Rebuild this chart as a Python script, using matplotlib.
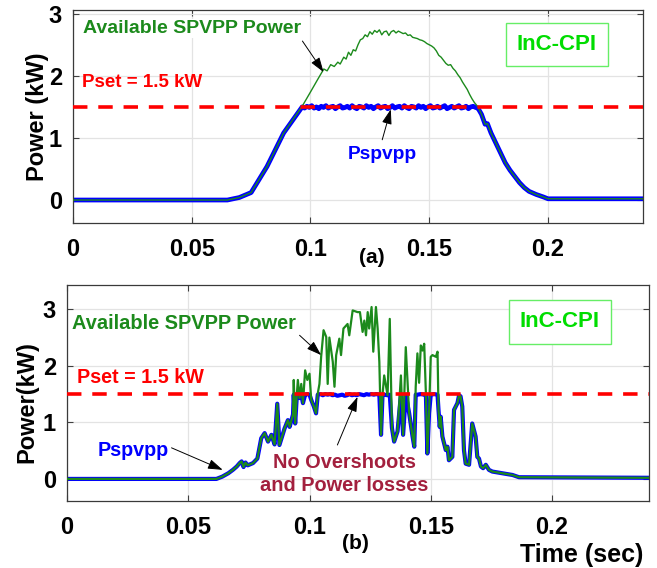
import matplotlib.pyplot as plt

plt.rcParams["font.family"] = ["Liberation Sans", "DejaVu Sans"]
plt.rcParams["font.weight"] = "bold"

# =============================================================================
# DATA
# =============================================================================
P_SET = 1.5

# (a) available power, smooth irradiance profile
t_avail_a = [0.0, 0.065, 0.070, 0.075, 0.0817, 0.0887, 0.0965, 0.100, 0.1030,
             0.1056, 0.107, 0.1085, 0.110, 0.1115, 0.1125, 0.114, 0.115,
             0.116, 0.117, 0.118, 0.119, 0.120, 0.121, 0.122, 0.123, 0.124,
             0.125, 0.126, 0.127, 0.128, 0.129, 0.130, 0.131, 0.132, 0.133,
             0.134, 0.135, 0.136, 0.137, 0.138, 0.139, 0.140, 0.141, 0.142,
             0.143, 0.144, 0.145, 0.146, 0.147, 0.148, 0.149, 0.150, 0.151,
             0.152, 0.153, 0.154, 0.155, 0.156, 0.157, 0.158, 0.159, 0.160,
             0.161, 0.162, 0.163, 0.164, 0.165, 0.166, 0.167, 0.168, 0.169,
             0.1705, 0.172, 0.1735, 0.1745, 0.176, 0.178, 0.180, 0.182,
             0.184, 0.186, 0.188, 0.190, 0.192, 0.195, 0.198, 0.200, 0.240]
p_avail_a = [0.0, 0.0, 0.04, 0.12, 0.54, 1.08, 1.51, 1.74, 1.94,
             2.11, 2.08, 2.18, 2.15, 2.22, 2.19, 2.30, 2.27,
             2.38, 2.33, 2.42, 2.40, 2.50, 2.58, 2.60, 2.66, 2.63,
             2.71, 2.67, 2.73, 2.70, 2.74, 2.66, 2.71, 2.72, 2.65,
             2.71, 2.73, 2.69, 2.72, 2.70, 2.68, 2.69, 2.65, 2.66,
             2.62, 2.61, 2.60, 2.58, 2.57, 2.55, 2.52, 2.50, 2.48,
             2.45, 2.40, 2.33, 2.30, 2.25, 2.20, 2.17, 2.18, 2.12,
             2.08, 2.02, 1.97, 1.90, 1.84, 1.78, 1.70, 1.63, 1.57,
             1.50, 1.38, 1.22, 1.23, 1.08, 0.92, 0.76, 0.60,
             0.48, 0.38, 0.28, 0.20, 0.14, 0.09, 0.05, 0.02, 0.02]

# (a) delivered power, limited to Pset
t_pv_a = [0.0, 0.065, 0.070, 0.075, 0.0817, 0.0887, 0.0965,
          0.0975, 0.0985, 0.0995, 0.1005, 0.1015, 0.1025, 0.1035, 0.1045,
          0.1055, 0.1065, 0.1075, 0.1085, 0.1095, 0.1105, 0.1115, 0.1125,
          0.1135, 0.1145, 0.1155, 0.1165, 0.1175, 0.1185, 0.1195, 0.1205,
          0.1215, 0.1225, 0.1235, 0.1245, 0.1255, 0.1265, 0.1275, 0.1285,
          0.1295, 0.1305, 0.1315, 0.1325, 0.1335, 0.1345, 0.1355, 0.1365,
          0.1375, 0.1385, 0.1395, 0.1405, 0.1415, 0.1425, 0.1435, 0.1445,
          0.1455, 0.1465, 0.1475, 0.1485, 0.1495, 0.1505, 0.1515, 0.1525,
          0.1535, 0.1545, 0.1555, 0.1565, 0.1575, 0.1585, 0.1595, 0.1605,
          0.1615, 0.1625, 0.1635, 0.1645, 0.1655, 0.1665, 0.1675, 0.1685,
          0.1695, 0.1705, 0.172, 0.1735, 0.1745, 0.176, 0.178, 0.180,
          0.182, 0.184, 0.186, 0.188, 0.190, 0.192, 0.195, 0.198, 0.200,
          0.240]
p_pv_a = [0.0, 0.0, 0.04, 0.12, 0.54, 1.08, 1.50,
          1.48, 1.51, 1.49, 1.52, 1.48, 1.50, 1.47, 1.51,
          1.49, 1.52, 1.48, 1.50, 1.51, 1.47, 1.50, 1.52,
          1.48, 1.49, 1.51, 1.48, 1.52, 1.49, 1.47, 1.51,
          1.50, 1.48, 1.52, 1.49, 1.51, 1.47, 1.50, 1.52,
          1.48, 1.50, 1.51, 1.47, 1.49, 1.52, 1.48, 1.50,
          1.51, 1.48, 1.52, 1.49, 1.47, 1.51, 1.50, 1.48,
          1.52, 1.49, 1.51, 1.47, 1.50, 1.52, 1.48, 1.49,
          1.51, 1.48, 1.50, 1.52, 1.47, 1.49, 1.51, 1.48,
          1.50, 1.52, 1.48, 1.49, 1.51, 1.47, 1.50, 1.51,
          1.49, 1.48, 1.38, 1.22, 1.23, 1.08, 0.92, 0.76,
          0.60, 0.48, 0.38, 0.28, 0.20, 0.14, 0.09, 0.05, 0.02,
          0.02]

# (b) available power, fast-changing irradiance
t_avail_b = [0.0, 0.0616, 0.0640, 0.0665, 0.0684, 0.0700, 0.0712, 0.0720,
             0.0728, 0.0736, 0.0745, 0.0767, 0.0785, 0.0801, 0.0815, 0.0829,
             0.0843, 0.0856, 0.0867, 0.0876, 0.0897, 0.0911, 0.0918, 0.0932,
             0.0935, 0.0941, 0.0948, 0.0952, 0.0959, 0.0966, 0.0973, 0.0982,
             0.0991, 0.1000, 0.1007, 0.1018, 0.1027, 0.1034, 0.1041, 0.1048,
             0.1058, 0.1069, 0.1075, 0.1082, 0.1096, 0.1103, 0.1110, 0.1123,
             0.1130, 0.1140, 0.1157, 0.1164, 0.1178, 0.1198, 0.1208, 0.1219,
             0.1226, 0.1233, 0.1240, 0.1246, 0.1256, 0.1263, 0.1274, 0.1281,
             0.1288, 0.1295, 0.1301, 0.1308, 0.1322, 0.1331, 0.1340, 0.1349,
             0.1363, 0.1377, 0.1386, 0.1397, 0.1411, 0.1425, 0.1432, 0.1438,
             0.1445, 0.1452, 0.1459, 0.1466, 0.1473, 0.1480, 0.1486, 0.1493,
             0.1500, 0.1507, 0.1521, 0.1528, 0.1532, 0.1537, 0.1541, 0.1548,
             0.1562, 0.1569, 0.1575, 0.1589, 0.1596, 0.1610, 0.1617, 0.1623,
             0.1630, 0.1637, 0.1644, 0.1658, 0.1671, 0.1685, 0.1692, 0.1699,
             0.1707, 0.1716, 0.1727, 0.1740, 0.1754, 0.1782, 0.1809, 0.1837,
             0.1864, 0.2400]
p_avail_b = [0.0, 0.0, 0.04, 0.10, 0.16, 0.22, 0.28, 0.31,
             0.21, 0.29, 0.24, 0.28, 0.36, 0.72, 0.81, 0.66,
             0.78, 0.61, 1.33, 0.60, 0.89, 1.04, 0.92, 1.14,
             1.75, 0.98, 1.51, 1.75, 1.43, 1.68, 1.34, 1.92,
             1.75, 1.86, 1.40, 1.28, 1.16, 1.51, 1.68, 2.16,
             2.63, 2.51, 1.68, 2.50, 2.07, 1.63, 2.19, 2.48,
             2.19, 2.66, 2.74, 2.54, 2.98, 2.95, 2.95, 2.60,
             2.80, 2.54, 2.95, 2.66, 3.04, 2.25, 3.04, 2.66,
             2.07, 0.78, 1.48, 1.83, 1.48, 2.83, 0.90, 0.66,
             0.84, 1.83, 0.78, 2.33, 1.16, 0.75, 0.57, 1.63,
             2.22, 1.70, 2.36, 2.27, 2.39, 1.51, 0.45, 1.16,
             2.16, 2.19, 2.16, 2.25, 1.22, 0.92, 1.10, 0.75,
             0.51, 0.57, 0.33, 0.39, 1.22, 1.34, 1.48, 1.46,
             1.28, 0.51, 0.27, 0.25, 0.98, 0.75, 0.39, 0.36,
             0.22, 0.19, 0.25, 0.16, 0.13, 0.11, 0.09, 0.07,
             0.03, 0.02]

# (b) delivered power, limited to Pset
t_pv_b = [0.0, 0.0616, 0.0640, 0.0665, 0.0684, 0.0700, 0.0712, 0.0720,
          0.0728, 0.0736, 0.0745, 0.0767, 0.0785, 0.0801, 0.0815, 0.0829,
          0.0843, 0.0856, 0.0867, 0.0876, 0.0897, 0.0911, 0.0918, 0.0932,
          0.0935, 0.0941, 0.0948, 0.0952, 0.0959, 0.0966, 0.0973, 0.0982,
          0.0991, 0.1000, 0.1007, 0.1018, 0.1027, 0.1034, 0.1045, 0.1055,
          0.1065, 0.1075, 0.1085, 0.1095, 0.1105, 0.1115, 0.1125, 0.1135,
          0.1145, 0.1155, 0.1165, 0.1175, 0.1185, 0.1195, 0.1205, 0.1215,
          0.1225, 0.1235, 0.1245, 0.1255, 0.1265, 0.1275, 0.1288, 0.1295,
          0.1301, 0.1308, 0.1322, 0.1331, 0.1340, 0.1349, 0.1363, 0.1377,
          0.1386, 0.1397, 0.1411, 0.1425, 0.1432, 0.1438, 0.1445, 0.1459,
          0.1473, 0.1480, 0.1486, 0.1493, 0.1500, 0.1514, 0.1528, 0.1532,
          0.1537, 0.1541, 0.1548, 0.1562, 0.1569, 0.1575, 0.1589, 0.1596,
          0.1610, 0.1617, 0.1623, 0.1630, 0.1637, 0.1644, 0.1658, 0.1671,
          0.1685, 0.1692, 0.1699, 0.1707, 0.1716, 0.1727, 0.1740, 0.1754,
          0.1782, 0.1809, 0.1837, 0.1864, 0.2400]
p_pv_b = [0.0, 0.0, 0.04, 0.10, 0.16, 0.22, 0.28, 0.31,
          0.21, 0.29, 0.24, 0.28, 0.36, 0.72, 0.81, 0.66,
          0.78, 0.61, 1.33, 0.60, 0.89, 1.04, 0.92, 1.14,
          1.49, 0.98, 1.49, 1.49, 1.43, 1.49, 1.34, 1.49,
          1.50, 1.49, 1.40, 1.28, 1.16, 1.49, 1.50, 1.48,
          1.50, 1.49, 1.50, 1.48, 1.49, 1.47, 1.48, 1.49,
          1.47, 1.48, 1.50, 1.48, 1.49, 1.48, 1.50, 1.49,
          1.48, 1.50, 1.49, 1.50, 1.49, 1.50, 1.49, 0.78,
          1.48, 1.49, 1.48, 1.49, 0.90, 0.66, 0.84, 1.49,
          0.78, 1.49, 1.16, 0.75, 0.57, 1.49, 1.49, 1.50,
          1.49, 1.49, 0.45, 1.16, 1.49, 1.50, 1.49, 1.22,
          0.92, 1.10, 0.75, 0.51, 0.57, 0.33, 0.39, 1.22,
          1.34, 1.48, 1.46, 1.28, 0.51, 0.27, 0.25, 0.98,
          0.75, 0.39, 0.36, 0.22, 0.19, 0.25, 0.16, 0.13,
          0.11, 0.09, 0.07, 0.03, 0.02]

x_ticks = [0, 0.05, 0.1, 0.15, 0.2]
x_tick_labels = ["0", "0.05", "0.1", "0.15", "0.2"]
y_ticks = [0, 1, 2, 3]

GREEN = "#1c8a1c"
BLUE = "#0000ff"
RED = "#ff0000"
MAROON = "#a3203e"


# =============================================================================
# HELPERS
# =============================================================================
def style_axes(ax, ylim):
    ax.set_xlim(0, 0.24)
    ax.set_ylim(*ylim)
    ax.set_xticks(x_ticks)
    ax.set_xticklabels(x_tick_labels)
    ax.set_yticks(y_ticks)
    ax.tick_params(direction="in", length=4, width=0.8, labelsize=17,
                   top=True, right=True, color="#404040")
    ax.tick_params(axis="x", pad=11)
    ax.tick_params(axis="y", pad=8)
    ax.grid(True, color="#e3e3e3", lw=0.9)
    ax.set_axisbelow(True)
    for sp in ax.spines.values():
        sp.set_color("#3a3a3a")
        sp.set_linewidth(0.9)


def arrow(ax, tail, head):
    ax.annotate("", xy=head, xytext=tail,
                arrowprops=dict(arrowstyle="-|>,head_length=0.9,head_width=0.3",
                                color="black", lw=0.7, shrinkA=0, shrinkB=0))


def mode_box(ax, x, y):
    ax.text(x, y, "InC-CPI", transform=ax.transAxes, fontsize=16,
            color="#00dd00", fontweight="bold", ha="center", va="center",
            bbox=dict(boxstyle="square,pad=0.5", facecolor="white",
                      edgecolor="#66ee66", lw=1.0))


# =============================================================================
# FIGURE
# =============================================================================
fig = plt.figure(figsize=(6.57, 5.68), dpi=100)

# ---- (a) ----
ax1 = fig.add_axes([0.1111, 0.6074, 0.8676, 0.375])
ax1.plot(t_pv_a, p_pv_a, color=BLUE, lw=3.4, zorder=2)
ax1.plot(t_avail_a, p_avail_a, color=GREEN, lw=1.0, zorder=3)
ax1.axhline(P_SET, color=RED, lw=2.6, dashes=(4, 3), zorder=4)
style_axes(ax1, (-0.37, 3.06))
ax1.set_ylabel("Power (kW)", fontsize=17, fontweight="bold")
ax1.yaxis.set_label_coords(-0.042, 0.5)

ax1.text(0.0042, 2.76, "Available SPVPP Power", color=GREEN, fontsize=14,
         fontweight="bold", va="center", ha="left",
         bbox=dict(facecolor="white", edgecolor="none", pad=0.5))
arrow(ax1, (0.0966, 2.56), (0.1055, 2.06))
ax1.text(0.0038, 1.9, "Pset = 1.5 kW", color=RED, fontsize=13.5,
         fontweight="bold", va="center", ha="left")
ax1.text(0.1304, 0.73, "Pspvpp", color=BLUE, fontsize=13.8,
         fontweight="bold", va="center", ha="center")
arrow(ax1, (0.1302, 0.97), (0.1338, 1.46))
ax1.text(0.525, -0.16, "(a)", transform=ax1.transAxes, fontsize=15,
         fontweight="bold", ha="center", va="center")
mode_box(ax1, 0.849, 0.838)

# ---- (b) ----
ax2 = fig.add_axes([0.1020, 0.1180, 0.8858, 0.3803])
ax2.plot(t_pv_b, p_pv_b, color=BLUE, lw=3.0, zorder=2)
ax2.plot(t_avail_b, p_avail_b, color=GREEN, lw=1.6, zorder=3)
ax2.axhline(P_SET, color=RED, lw=2.6, dashes=(4, 3), zorder=4)
style_axes(ax2, (-0.39, 3.43))
ax2.set_ylabel("Power(kW)", fontsize=17, fontweight="bold")
ax2.yaxis.set_label_coords(-0.05, 0.46)

ax2.text(0.0019, 2.75, "Available SPVPP Power", color=GREEN, fontsize=14.4,
         fontweight="bold", va="center", ha="left")
arrow(ax2, (0.0959, 2.54), (0.1048, 2.19))
ax2.text(0.004, 1.8, "Pset = 1.5 kW", color=RED, fontsize=14.2,
         fontweight="bold", va="center", ha="left")
ax2.text(0.0128, 0.51, "Pspvpp", color=BLUE, fontsize=14.2,
         fontweight="bold", va="center", ha="left")
arrow(ax2, (0.0431, 0.55), (0.0642, 0.16))
ax2.text(0.1145, 0.09, "No Overshoots\nand Power losses", color=MAROON,
         fontsize=14.4, fontweight="bold", va="center", ha="center",
         linespacing=1.3)
arrow(ax2, (0.1115, 0.60), (0.1198, 1.45))
ax2.text(0.495, -0.195, "(b)", transform=ax2.transAxes, fontsize=15,
         fontweight="bold", ha="center", va="center")
ax2.text(0.99, -0.25, "Time (sec)", transform=ax2.transAxes, fontsize=18,
         fontweight="bold", ha="right", va="center")
mode_box(ax2, 0.847, 0.829)

fig.savefig("out.png", dpi=100)
